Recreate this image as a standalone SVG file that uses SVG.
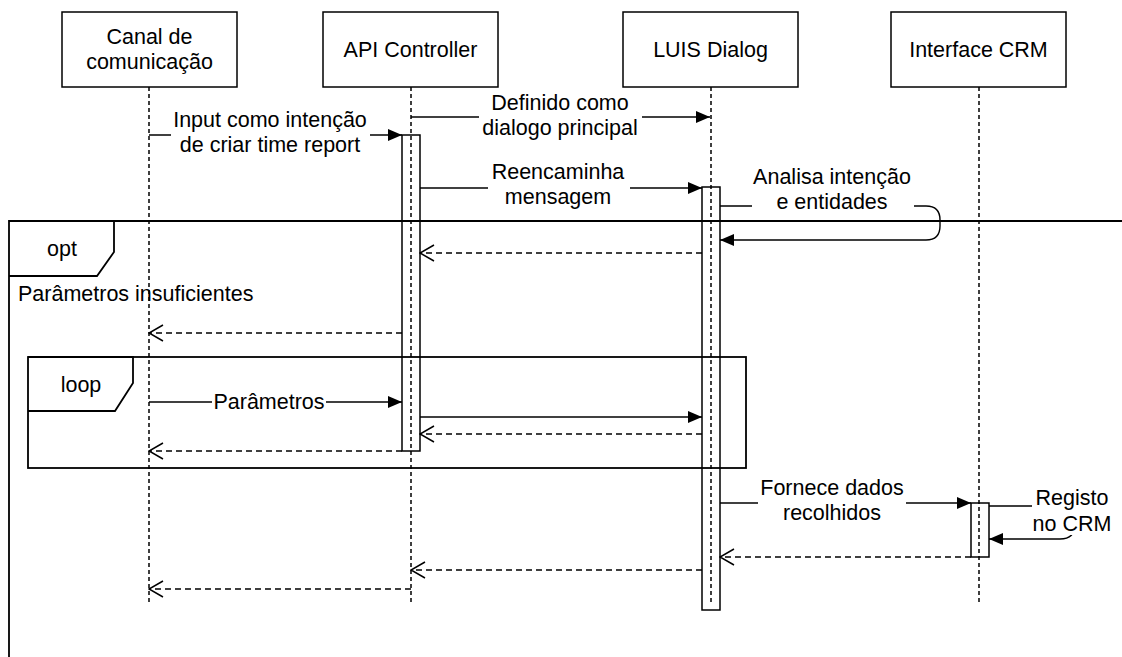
<svg xmlns="http://www.w3.org/2000/svg" width="1122" height="657" viewBox="0 0 1122 657">
<style>
.box{fill:#fff;stroke:#000;stroke-width:1.5}
.life{fill:none;stroke:#000;stroke-width:1.5;stroke-dasharray:4 3}
.act{fill:none;stroke:#000;stroke-width:1.5}
.frame{fill:none;stroke:#000;stroke-width:1.8}
.msg{fill:none;stroke:#000;stroke-width:1.4}
.ret{fill:none;stroke:#000;stroke-width:1.4;stroke-dasharray:6 4}
.lbg{fill:#fff;stroke:none}
text{font-family:"Liberation Sans",Arial,sans-serif;font-size:21.5px;fill:#000;dominant-baseline:central}
.c{text-anchor:middle}
</style>
<defs>
<marker id="fill" viewBox="0 0 14 12" refX="14" refY="6" markerWidth="14" markerHeight="12" markerUnits="userSpaceOnUse" orient="auto"><path d="M0,0 L14,6 L0,12 z" fill="#000"/></marker>
<marker id="open" viewBox="0 0 16 18" refX="15" refY="9" markerWidth="16" markerHeight="18" markerUnits="userSpaceOnUse" orient="auto"><path d="M1,1 L15,9 L1,17" fill="none" stroke="#000" stroke-width="1.5" stroke-dasharray="none"/></marker>
</defs>
<rect width="1122" height="657" fill="#fff"/>

<g id="frames">
<path class="frame" d="M9,657 V221 H1122"/>
<path class="frame" d="M9,221 H114 V252 L97,276 H9"/>
<text x="62" y="249" class="c">opt</text>
<text x="18" y="294">Parâmetros insuficientes</text>
<rect class="frame" x="28" y="357" width="718" height="111"/>
<path class="frame" d="M28,357 H133 V383 L115,411 H28"/>
<text x="81" y="385" class="c">loop</text>
</g>

<g id="canal">
<rect class="box" x="62" y="12" width="175" height="75"/>
<text x="149.5" y="37" class="c">Canal de</text>
<text x="149.5" y="62" class="c">comunicação</text>
<line class="life" x1="149" y1="87" x2="149" y2="604"/>
</g>

<g id="api">
<rect class="box" x="323" y="12" width="175" height="75"/>
<text x="410.5" y="50" class="c">API Controller</text>
<line class="life" x1="411" y1="87" x2="411" y2="604"/>
<rect class="act" x="402" y="135" width="18" height="316"/>
</g>

<g id="luis">
<rect class="box" x="623" y="12" width="175" height="75"/>
<text x="710.5" y="50" class="c">LUIS Dialog</text>
<line class="life" x1="711" y1="87" x2="711" y2="604"/>
<rect class="act" x="702" y="187" width="18" height="423"/>
</g>

<g id="crm">
<rect class="box" x="891" y="12" width="175" height="75"/>
<text x="978.5" y="50" class="c">Interface CRM</text>
<line class="life" x1="979" y1="87" x2="979" y2="604"/>
<rect class="act" x="971" y="503" width="18" height="54"/>
</g>

<g id="connectors">
<line class="msg" x1="149" y1="135" x2="402" y2="135" marker-end="url(#fill)"/>
<rect class="lbg" x="171" y="107" width="199" height="50"/>
<text x="270" y="120" class="c">Input como intenção</text>
<text x="270" y="145" class="c">de criar time report</text>

<line class="msg" x1="411" y1="117" x2="710" y2="117" marker-end="url(#fill)"/>
<rect class="lbg" x="479" y="90" width="163" height="50"/>
<text x="560" y="103" class="c">Definido como</text>
<text x="560" y="128" class="c">dialogo principal</text>

<line class="msg" x1="420" y1="188" x2="702" y2="188" marker-end="url(#fill)"/>
<rect class="lbg" x="488" y="160" width="142" height="50"/>
<text x="558" y="172" class="c">Reencaminha</text>
<text x="558" y="197" class="c">mensagem</text>

<path class="msg" d="M720,206 H926 Q940,206 940,220 V226 Q940,240 926,240 H720" marker-end="url(#fill)"/>
<rect class="lbg" x="752" y="165" width="162" height="48"/>
<text x="832" y="177" class="c">Analisa intenção</text>
<text x="832" y="202" class="c">e entidades</text>

<line class="ret" x1="702" y1="253" x2="420" y2="253" marker-end="url(#open)"/>
<line class="ret" x1="402" y1="333" x2="149" y2="333" marker-end="url(#open)"/>

<line class="msg" x1="149" y1="402" x2="402" y2="402" marker-end="url(#fill)"/>
<rect class="lbg" x="212" y="390" width="114" height="24"/>
<text x="269" y="402" class="c">Parâmetros</text>

<line class="msg" x1="420" y1="417" x2="702" y2="417" marker-end="url(#fill)"/>
<line class="ret" x1="702" y1="434" x2="420" y2="434" marker-end="url(#open)"/>
<line class="ret" x1="402" y1="451" x2="149" y2="451" marker-end="url(#open)"/>

<line class="msg" x1="720" y1="503" x2="971" y2="503" marker-end="url(#fill)"/>
<rect class="lbg" x="758" y="475" width="148" height="52"/>
<text x="832" y="488" class="c">Fornece dados</text>
<text x="832" y="513" class="c">recolhidos</text>

<path class="msg" d="M989,506 H1060 Q1075,506 1075,521 V524 Q1075,539 1060,539 H989" marker-end="url(#fill)"/>
<rect class="lbg" x="1032" y="486" width="82" height="49"/>
<text x="1072" y="498" class="c">Registo</text>
<text x="1072" y="524" class="c">no CRM</text>

<line class="ret" x1="971" y1="557" x2="720" y2="557" marker-end="url(#open)"/>
<line class="ret" x1="702" y1="570" x2="411" y2="570" marker-end="url(#open)"/>
<line class="ret" x1="411" y1="589" x2="149" y2="589" marker-end="url(#open)"/>
</g>
</svg>
